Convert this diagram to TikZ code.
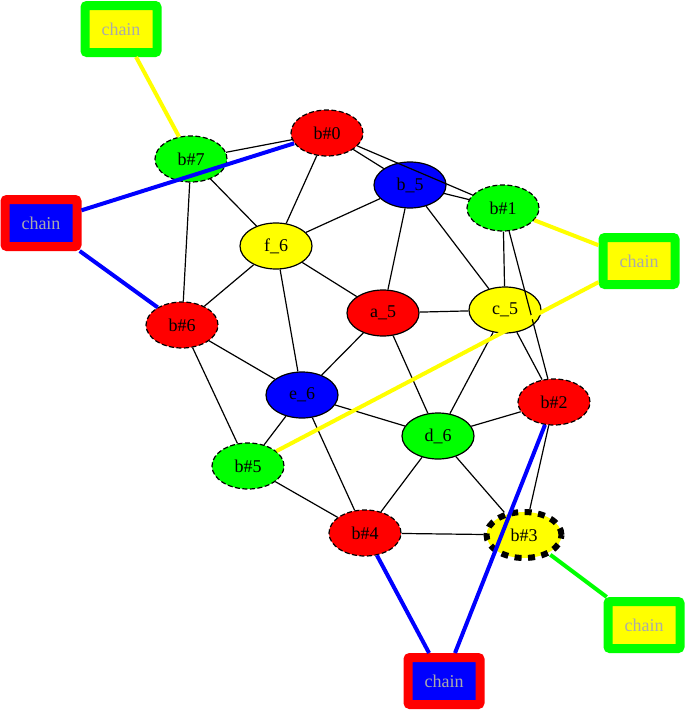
\documentclass[tikz,border=0pt]{standalone}
\usepackage{fontspec}
\setmainfont{Liberation Serif}
\usetikzlibrary{shapes.geometric}
\definecolor{cg}{RGB}{0,255,0}
\definecolor{cy}{RGB}{255,255,0}
\definecolor{cr}{RGB}{255,0,0}
\definecolor{cb}{RGB}{0,0,255}
\definecolor{chaingray}{RGB}{170,170,170}
\begin{document}
\begin{tikzpicture}[x=1pt,y=-1pt,
  ell/.style={ellipse, draw=black, line width=1.2pt, minimum width=72pt, minimum height=46pt, inner sep=0pt, font=\fontsize{18}{20}\selectfont},
  dsh/.style={ell, dash pattern=on 5pt off 2.5pt},
  chainbox/.style 2 args={rectangle, rounded corners=2pt, draw=#1, fill=#2, line width=9pt, minimum width=72pt, minimum height=47pt, inner sep=0pt, text=chaingray, font=\fontsize{18}{20}\selectfont},
  blk/.style={line width=1.2pt, draw=black},
  col/.style={line width=4pt, draw=#1}]
\useasboundingbox (0,0) rectangle (686,712);
% nodes
\node[dsh, fill=cr] (b0) at (327,133) {b\#0};
\node[ell, fill=cb] (b_5) at (410,185) {b\_5};
\node[dsh, fill=cg] (b1) at (503,208) {b\#1};
\node[dsh, fill=cg] (b7) at (191,159) {b\#7};
\node[ell, fill=cy] (f6) at (276,246) {f\_6};
\node[ell, fill=cr] (a5) at (383,313) {a\_5};
\node[ell, fill=cy] (c5) at (505,310) {c\_5};
\node[dsh, fill=cr] (b6) at (182,325) {b\#6};
\node[ell, fill=cb] (e6) at (302,395) {e\_6};
\node[dsh, fill=cr] (b2) at (554,402) {b\#2};
\node[ell, fill=cg] (d6) at (438,436) {d\_6};
\node[dsh, fill=cg] (b5) at (248,466) {b\#5};
\node[dsh, fill=cr] (b4) at (365,533) {b\#4};
\node[ell, fill=cy, line width=6pt, dash pattern=on 7pt off 6.5pt, minimum width=75pt, minimum height=46pt] (b3) at (524,535) {b\#3};
% chain boxes
\node[chainbox={cg}{cy}] (ch1) at (121,29) {chain};
\node[chainbox={cr}{cb}] (ch2) at (41,223) {chain};
\node[chainbox={cg}{cy}] (ch3) at (639,261) {chain};
\node[chainbox={cg}{cy}] (ch4) at (644,625) {chain};
\node[chainbox={cr}{cb}] (ch5) at (444,681) {chain};
% black edges
\draw[blk] (b0) -- (b7);
\draw[blk] (b0) -- (f6);
\draw[blk] (b0) -- (b_5);
\draw[blk] (b0) -- (b1);
\draw[blk] (b_5) -- (b1);
\draw[blk] (b7) -- (f6);
\draw[blk] (b7) -- (b6);
\draw[blk] (b_5) -- (f6);
\draw[blk] (b_5) -- (a5);
\draw[blk] (b_5) -- (c5);
\draw[blk] (b1) -- (c5);
\draw[blk] (b1) -- (b2);
\draw[blk] (f6) -- (a5);
\draw[blk] (f6) -- (b6);
\draw[blk] (f6) -- (e6);
\draw[blk] (a5) -- (c5);
\draw[blk] (a5) -- (e6);
\draw[blk] (a5) -- (d6);
\draw[blk] (c5) -- (d6);
\draw[blk] (c5) -- (b2);
\draw[blk] (b6) -- (e6);
\draw[blk] (b6) -- (b5);
\draw[blk] (e6) -- (b5);
\draw[blk] (e6) -- (d6);
\draw[blk] (e6) -- (b4);
\draw[blk] (b5) -- (b4);
\draw[blk] (b4) -- (d6);
\draw[blk] (b4) -- (b3);
\draw[blk] (d6) -- (b2);
\draw[blk] (d6) -- (b3);
\draw[blk] (b2) -- (b3);
% coloured edges
\draw[col=cy] (ch1) -- (b7);
\draw[col=cb] (ch2) -- (b0);
\draw[col=cb] (ch2) -- (b6);
\draw[col=cy] (ch3) -- (b1);
\draw[col=cy] (ch3) -- (b5);
\draw[col=cg] (ch4) -- (b3);
\draw[col=cb] (ch5) -- (b4);
\draw[col=cb] (ch5) -- (b2);
\end{tikzpicture}
\end{document}
